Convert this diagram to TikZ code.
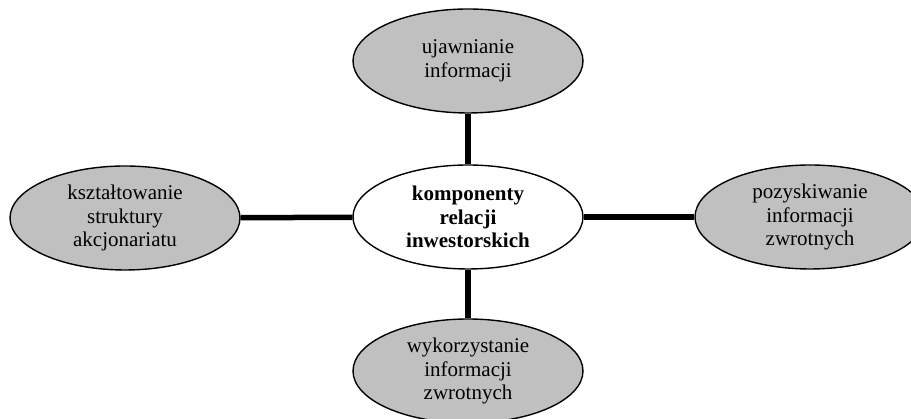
\documentclass[tikz,border=0pt]{standalone}
\usepackage{fontspec}
\setmainfont{Liberation Serif}
\usetikzlibrary{shapes.geometric}
\definecolor{bubblegray}{HTML}{C0C0C0}
\tikzset{
  topic/.style={ellipse, draw=black, line width=1.4pt, fill=bubblegray,
    minimum width=230pt, minimum height=104pt, inner sep=0pt,
    align=center, font=\fontsize{21}{23.5}\selectfont},
  core/.style={topic, fill=white, font=\fontsize{21}{23.5}\selectfont\bfseries},
  link/.style={line width=5.5pt}
}
\begin{document}
\begin{tikzpicture}[x=1pt,y=1pt]
  \useasboundingbox (0,0) rectangle (911,419);
  \clip (0,0) rectangle (911,419);
  \node[core]  (c) at (468,202) {komponenty\\relacji\\inwestorskich};
  \node[topic] (t) at (468,358) {ujawnianie\\informacji};
  \node[topic] (l) at (125,201) {kształtowanie\\struktury\\akcjonariatu};
  \node[topic] (r) at (810,202) {pozyskiwanie\\informacji\\zwrotnych};
  \node[topic] (b) at (468,48)  {wykorzystanie\\informacji\\zwrotnych};
  \draw[link] (t) -- (c);
  \draw[link] (c) -- (b);
  \draw[link] (l) -- (c);
  \draw[link] (c) -- (r);
\end{tikzpicture}
\end{document}
